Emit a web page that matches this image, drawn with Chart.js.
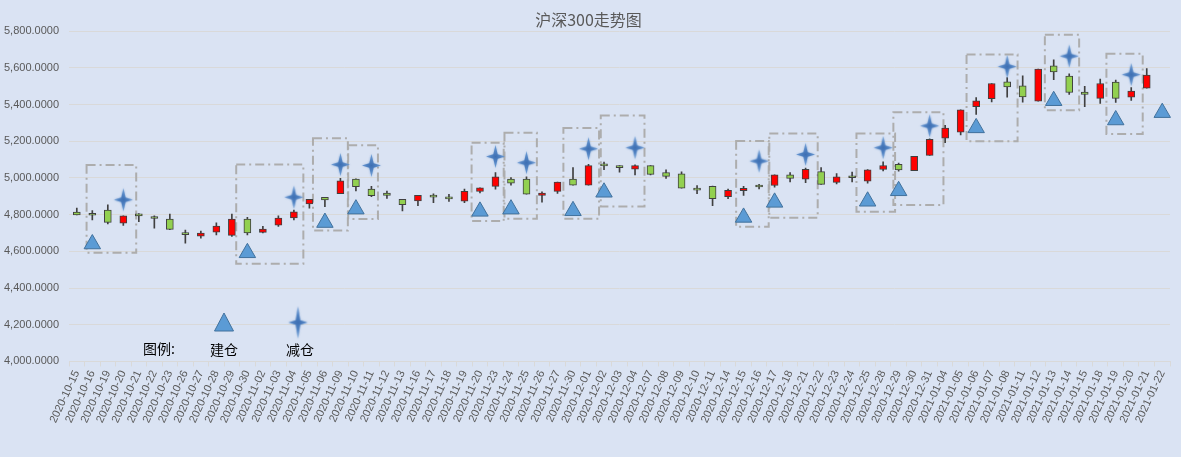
<!DOCTYPE html>
<html>
<head>
<meta charset="utf-8">
<script src="https://cdn.jsdelivr.net/npm/chart.js@4.4.0/dist/chart.umd.min.js"></script>
<style>
  html, body { margin: 0; padding: 0; background: #dae3f3; }
  #wrap { width: 1181px; height: 457px; }
</style>
</head>
<body>
<div id="wrap"><canvas id="myChart"></canvas></div>
<script>
const dates = ["2020-10-15","2020-10-16","2020-10-19","2020-10-20","2020-10-21","2020-10-22","2020-10-23","2020-10-26","2020-10-27","2020-10-28","2020-10-29","2020-10-30",
  "2020-11-02","2020-11-03","2020-11-04","2020-11-05","2020-11-06","2020-11-09","2020-11-10","2020-11-11","2020-11-12","2020-11-13","2020-11-16","2020-11-17","2020-11-18","2020-11-19","2020-11-20","2020-11-23","2020-11-24","2020-11-25","2020-11-26","2020-11-27","2020-11-30",
  "2020-12-01","2020-12-02","2020-12-03","2020-12-04","2020-12-07","2020-12-08","2020-12-09","2020-12-10","2020-12-11","2020-12-14","2020-12-15","2020-12-16","2020-12-17","2020-12-18","2020-12-21","2020-12-22","2020-12-23","2020-12-24","2020-12-25","2020-12-28","2020-12-29","2020-12-30","2020-12-31",
  "2021-01-04","2021-01-05","2021-01-06","2021-01-07","2021-01-08","2021-01-11","2021-01-12","2021-01-13","2021-01-14","2021-01-15","2021-01-18","2021-01-19","2021-01-20","2021-01-21","2021-01-22"]

// daily open / high / low / close (last day has no candle)
const openVals  = [4814,4799,4825,4754,4805,4781,4776,4693,4683,4705,4687,4776,4703,4743,4782,4859,4894,4914,4994,4939,4918,4883,4875,4898,4888,4874,4926,4954,4994,4994,4905,4927,4994,4961,5070,5067,5048,5067,5030,5022,4936,4955,4898,4931,4953,4959,5017,4994,5035,4976,5003,4983,5046,5074,5040,5123,5217,5250,5388,5432,5524,5502,5418,5611,5556,5468,5434,5523,5440,5490,null]
const highVals  = [4836,4822,4853,4793,4806,4793,4803,4716,4711,4756,4803,4785,4736,4793,4825,4883,4895,4998,4995,4955,4929,4884,4905,4914,4911,4940,4946,5029,5002,5006,4924,4978,5056,5074,5087,5068,5072,5068,5045,5033,4959,4956,4940,4955,4965,5017,5030,5054,5056,5024,5032,5046,5088,5081,5118,5213,5287,5371,5438,5515,5547,5557,5594,5644,5567,5499,5539,5534,5493,5596,null]
const lowVals   = [4798,4771,4749,4742,4762,4727,4718,4645,4672,4689,4681,4689,4700,4736,4771,4836,4844,4914,4929,4898,4888,4821,4849,4866,4872,4866,4918,4939,4961,4911,4868,4916,4961,4961,5045,5032,5017,5017,4998,4944,4914,4849,4887,4905,4940,4950,4978,4974,4965,4967,4978,4972,5039,5037,5040,5123,5193,5234,5346,5414,5441,5413,5418,5536,5456,5388,5407,5412,5423,5490,null]
const closeVals = [4798,4797,4758,4793,4793,4779,4720,4691,4700,4738,4776,4700,4722,4782,4816,4883,4881,4985,4953,4903,4905,4855,4905,4896,4886,4927,4946,5006,4972,4911,4918,4978,4961,5067,5066,5056,5067,5020,5009,4944,4934,4887,4933,4944,4951,5017,4998,5047,4965,5006,5001,5045,5068,5044,5118,5211,5272,5371,5421,5515,5496,5442,5594,5578,5466,5456,5515,5434,5473,5561,null]

// 建仓 (triangles) and 减仓 (stars): day index + level
const buyIdx  = [1,11,16,18,26,28,32,34,43,45,51,53,58,63,67,70]
const buyVals = [4640,4592,4757,4830,4818,4830,4821,4922,4785,4867,4873,4930,5273,5421,5316,5356]
const sellIdx  = [3,14,17,19,27,29,33,36,44,47,52,55,60,64,68]
const sellVals = [4881,4895,5073,5068,5117,5083,5159,5165,5092,5128,5165,5284,5607,5664,5563]

// dashed boxes around each trade (from/to in day index, top/bottom in index points)
const boxFrom   = [0.63,10.28,15.23,17.5,25.46,27.58,31.38,33.79,42.52,44.66,50.28,52.66,57.38,62.43,66.4]
const boxTo     = [3.83,14.61,17.48,19.42,27.53,29.67,33.68,36.61,44.62,47.78,52.77,55.89,60.67,64.64,68.74]
const boxTop    = [5070,5073,5217,5178,5192,5247,5272,5341,5202,5242,5242,5358,5673,5780,5677]
const boxBottom = [4592,4532,4713,4776,4765,4778,4778,4844,4734,4783,4816,4853,5200,5369,5240]

const yMin = 4000
const yMax = 5800
const yStep = 200

const upColor = "#ff0000"
const downColor = "#92d050"
const edgeColor = "#404040"

function makeStar(w, h, inner){
  const pad = 2
  const c = document.createElement("canvas")
  c.width = w + pad * 2
  c.height = h + pad * 2
  const g = c.getContext("2d")
  const cx = c.width / 2, cy = c.height / 2
  g.shadowColor = "rgba(90,140,200,0.6)"
  g.shadowBlur = 2
  g.beginPath()
  g.moveTo(cx, cy - h / 2)
  g.lineTo(cx + inner, cy - inner)
  g.lineTo(cx + w / 2, cy)
  g.lineTo(cx + inner, cy + inner)
  g.lineTo(cx, cy + h / 2)
  g.lineTo(cx - inner, cy + inner)
  g.lineTo(cx - w / 2, cy)
  g.lineTo(cx - inner, cy - inner)
  g.closePath()
  const grad = g.createRadialGradient(cx, cy, 0, cx, cy, h / 2)
  grad.addColorStop(0, "#3d6fb3")
  grad.addColorStop(1, "#6f9fd8")
  g.fillStyle = grad
  g.fill()
  return c
}
const starImg = makeStar(19, 23, 2.2)
const legendStar = makeStar(19, 32, 2.3)

const wickData = dates.map((d, i) => openVals[i] == null ? null : [lowVals[i], highVals[i]])
const bodyData = dates.map((d, i) => openVals[i] == null ? null : [openVals[i], closeVals[i]])
const bodyColors = dates.map((d, i) => closeVals[i] >= openVals[i] ? upColor : downColor)

const buyData = dates.map(() => null)
buyIdx.forEach((k, j) => { buyData[k] = buyVals[j] })
const sellData = dates.map(() => null)
sellIdx.forEach((k, j) => { sellData[k] = sellVals[j] })

const boxPlugin = {
  id: "boxes",
  beforeDatasetsDraw(chart){
    const ctx = chart.ctx
    const x = chart.scales.x, y = chart.scales.y
    ctx.save()
    ctx.strokeStyle = "#adadad"
    ctx.lineWidth = 2
    ctx.setLineDash([9, 4, 2, 4])
    for (let i = 0; i < boxFrom.length; i++) {
      const x1 = x.getPixelForValue(boxFrom[i])
      const x2 = x.getPixelForValue(boxTo[i])
      const y1 = y.getPixelForValue(boxTop[i])
      const y2 = y.getPixelForValue(boxBottom[i])
      ctx.strokeRect(x1, y1, x2 - x1, y2 - y1)
    }
    ctx.restore()
  }
}

const legendPlugin = {
  id: "tradeLegend",
  afterDraw(chart){
    const ctx = chart.ctx
    ctx.save()
    ctx.font = '14px "Noto Sans CJK SC"'
    ctx.fillStyle = "#000000"
    ctx.textBaseline = "middle"
    ctx.textAlign = "left"
    ctx.fillText("图例:", 143, 349)
    ctx.textAlign = "center"
    ctx.fillText("建仓", 224, 350)
    ctx.fillText("减仓", 300, 350)
    // triangle
    ctx.beginPath()
    ctx.moveTo(224, 313)
    ctx.lineTo(233.5, 331)
    ctx.lineTo(214.5, 331)
    ctx.closePath()
    ctx.fillStyle = "#5b9bd5"
    ctx.fill()
    ctx.strokeStyle = "#41719c"
    ctx.lineWidth = 1
    ctx.stroke()
    ctx.drawImage(legendStar, 298 - legendStar.width / 2, 322.5 - legendStar.height / 2)
    ctx.restore()
  }
}

new Chart("myChart", {
  type: "bar",
  data: {
    labels: dates,
    datasets: [
      {
        type: "line", label: "建仓", data: buyData, showLine: false, order: 0,
        pointStyle: "triangle", pointRadius: 9.5, pointHoverRadius: 9.5,
        backgroundColor: "#5b9bd5", borderColor: "#41719c", borderWidth: 1
      },
      {
        type: "line", label: "减仓", data: sellData, showLine: false, order: 0,
        pointStyle: starImg, pointRadius: 10
      },
      {
        label: "body", data: bodyData, order: 1, grouped: false,
        backgroundColor: bodyColors, borderColor: edgeColor, borderWidth: 1,
        borderSkipped: false, barThickness: 7, minBarLength: 2
      },
      {
        label: "wick", data: wickData, order: 2, grouped: false,
        backgroundColor: edgeColor, borderWidth: 0, barThickness: 1
      }
    ]
  },
  options: {
    responsive: true,
    maintainAspectRatio: false,
    animation: false,
    devicePixelRatio: 1,
    layout: { padding: { left: -6, right: -2, top: 0, bottom: 30 } },
    plugins: {
      legend: { display: false },
      tooltip: { enabled: false },
      title: {
        display: true, text: "沪深300走势图", color: "#595959",
        font: { family: '"Noto Sans CJK SC"', size: 16, weight: "normal" },
        padding: { top: 10, bottom: 2 }
      }
    },
    scales: {
      x: {
        offset: true,
        grid: { offset: true, drawOnChartArea: false, color: "#d9d9d9", tickLength: 5 },
        border: { color: "#d9d9d9" },
        ticks: {
          autoSkip: false, maxRotation: 65, minRotation: 65, padding: 2,
          color: "#595959", font: { family: '"Liberation Sans"', size: 11 }
        }
      },
      y: {
        min: yMin, max: yMax,
        grid: { color: "#d9d9d9", drawTicks: false },
        border: { display: false },
        ticks: {
          stepSize: yStep, padding: 10, color: "#595959",
          font: { family: '"Liberation Sans"', size: 11 },
          callback: v => v.toLocaleString("en-US", { minimumFractionDigits: 4, maximumFractionDigits: 4 })
        }
      }
    }
  },
  plugins: [boxPlugin, legendPlugin]
})
</script>
</body>
</html>
